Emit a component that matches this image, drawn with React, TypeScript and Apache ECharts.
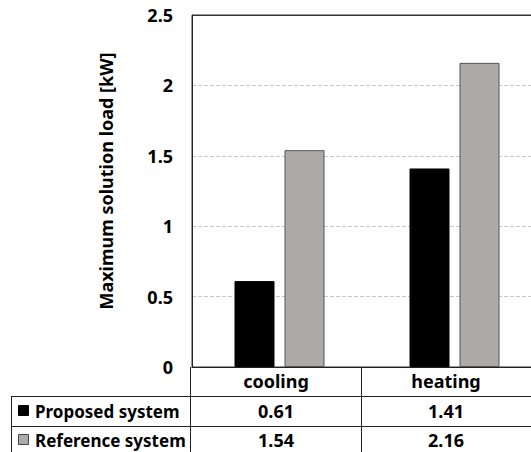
import React, { useEffect, useRef } from "react";
import * as echarts from "echarts";

const categories = ["cooling", "heating"];
const seriesNames = ["Proposed system", "Reference system"];
const proposed = [0.61, 1.41];
const reference = [1.54, 2.16];
const yTicks = { min: 0, max: 2.5, interval: 0.5 };
const yTitle = "Maximum solution load [kW]";

const FONT = "'Noto Sans', 'Open Sans', sans-serif";

export default function App() {
  const ref = useRef<HTMLDivElement>(null);
  useEffect(() => {
    if (!ref.current) return;
    const chart = echarts.init(ref.current, null, { renderer: "svg" });
    const lineStyle = { stroke: "#222", lineWidth: 1 };
    const colCenters = [276, 446];
    const rowY = [411, 440];
    const rows = [proposed, reference];
    const keyFill = ["#000000", "#aeaaaa"];
    const graphics: any[] = [
      { type: "line", z: 100, shape: { x1: 192, y1: 15.5, x2: 531, y2: 15.5 }, style: { stroke: "#333", lineWidth: 1.2 } },
      { type: "line", z: 100, shape: { x1: 11, y1: 396.5, x2: 531, y2: 396.5 }, style: lineStyle },
      { type: "line", z: 100, shape: { x1: 11, y1: 426.5, x2: 531, y2: 426.5 }, style: lineStyle },
      { type: "line", z: 100, shape: { x1: 11.5, y1: 396, x2: 11.5, y2: 452 }, style: lineStyle },
      { type: "line", z: 100, shape: { x1: 190.5, y1: 367, x2: 190.5, y2: 452 }, style: lineStyle },
      { type: "line", z: 100, shape: { x1: 361.5, y1: 367, x2: 361.5, y2: 452 }, style: lineStyle },
      {
        type: "text",
        x: 106,
        y: 181,
        rotation: Math.PI / 2,
        style: { text: yTitle, fill: "#000", font: `bold 18px ${FONT}`, align: "center", verticalAlign: "middle" },
      },
    ];
    categories.forEach((c, i) => {
      graphics.push({
        type: "text",
        x: colCenters[i],
        y: 381,
        style: { text: c, fill: "#000", font: `bold 18px ${FONT}`, align: "center", verticalAlign: "middle" },
      });
    });
    seriesNames.forEach((n, r) => {
      graphics.push({
        type: "rect",
        shape: { x: 18.5, y: rowY[r] - 5.5, width: 10, height: 10 },
        style: { fill: keyFill[r], stroke: r === 0 ? "#000" : "#444", lineWidth: 1 },
      });
      graphics.push({
        type: "text",
        x: 35,
        y: rowY[r],
        style: { text: n, fill: "#000", font: `bold 17px ${FONT}`, align: "left", verticalAlign: "middle" },
      });
      rows[r].forEach((v, i) => {
        graphics.push({
          type: "text",
          x: colCenters[i],
          y: rowY[r],
          style: { text: v.toFixed(2), fill: "#000", font: `bold 18px ${FONT}`, align: "center", verticalAlign: "middle" },
        });
      });
    });

    chart.setOption({
      animation: false,
      backgroundColor: "#ffffff",
      grid: {
        left: 192,
        top: 15,
        width: 350,
        bottom: 85,
        outerBoundsMode: "none",
        show: true,
        borderColor: "#333",
        borderWidth: 1,
        backgroundColor: "transparent",
      },
      xAxis: {
        type: "category",
        data: categories,
        axisLine: { show: true, lineStyle: { color: "#222", width: 1 } },
        axisTick: { show: false },
        axisLabel: { show: false },
      },
      yAxis: {
        type: "value",
        min: yTicks.min,
        max: yTicks.max,
        interval: yTicks.interval,
        axisLine: { show: true, lineStyle: { color: "#222" } },
        axisTick: { show: false },
        axisLabel: { fontFamily: FONT, fontWeight: "bold", fontSize: 18, color: "#000", margin: 19 },
        splitLine: {
          show: true,
          showMinLine: false,
          showMaxLine: false,
          lineStyle: { color: "#c8c8c8", type: "dashed", width: 1 },
        },
      },
      series: [
        {
          name: seriesNames[0],
          type: "bar",
          data: proposed,
          barWidth: 40,
          barGap: "25%",
          itemStyle: { color: "#000000", borderColor: "#000", borderWidth: 1 },
        },
        {
          name: seriesNames[1],
          type: "bar",
          data: reference,
          barWidth: 40,
          itemStyle: { color: "#aeaaaa", borderColor: "#555", borderWidth: 1 },
        },
      ],
      graphic: graphics,
    });
    return () => chart.dispose();
  }, []);
  return <div ref={ref} style={{ width: 531, height: 452, position: "absolute", left: 0, top: 0 }} />;
}
